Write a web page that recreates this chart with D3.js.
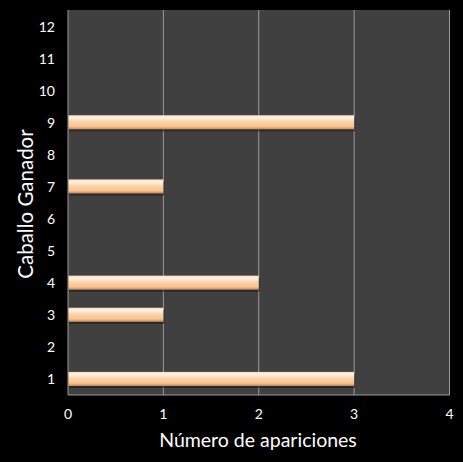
<!DOCTYPE html>
<html>
<head>
<meta charset="utf-8">
<script src="https://cdn.jsdelivr.net/npm/d3@7"></script>
<style>
  body { margin: 0; background: #000; }
  text { font-family: Lato, 'Open Sans', sans-serif; fill: #fff; }
</style>
</head>
<body>
<div id="chart"></div>
<script>
const caballos = ['1', '2', '3', '4', '5', '6', '7', '8', '9', '10', '11', '12']
const apariciones = [3, 0, 1, 2, 0, 0, 1, 0, 3, 0, 0, 0]
const xTicks = [0, 1, 2, 3, 4]

const margin = { top: 10, left: 68, right: 13.5, bottom: 67 }
const width = 463 - margin.left - margin.right
const height = 462 - margin.top - margin.bottom

const svg = d3
  .select('#chart')
  .append('svg')
  .attr('width', 463)
  .attr('height', 462)
  .style('background', '#000')

const defs = svg.append('defs')
const grad = defs
  .append('linearGradient')
  .attr('id', 'barGrad')
  .attr('x1', 0).attr('y1', 0).attr('x2', 0).attr('y2', 1)
grad.append('stop').attr('offset', '0%').attr('stop-color', '#f6dcc0')
grad.append('stop').attr('offset', '18%').attr('stop-color', '#fff4e4')
grad.append('stop').attr('offset', '45%').attr('stop-color', '#fdd3a8')
grad.append('stop').attr('offset', '80%').attr('stop-color', '#f9c490')
grad.append('stop').attr('offset', '100%').attr('stop-color', '#b88462')

const g = svg
  .append('g')
  .attr('transform', 'translate(' + margin.left + ',' + margin.top + ')')

const x = d3.scaleLinear().domain([0, 4]).range([0, width])
const y = d3
  .scaleBand()
  .domain(caballos.slice().reverse())
  .range([0, height])
  .paddingInner(0.56)
  .paddingOuter(0.28)

// plot area
g.append('rect')
  .attr('width', width)
  .attr('height', height)
  .attr('fill', '#404040')

// vertical gridlines
g.selectAll('.grid')
  .data(xTicks.slice(1))
  .enter()
  .append('line')
  .attr('x1', d => x(d))
  .attr('x2', d => x(d))
  .attr('y1', 0)
  .attr('y2', height)
  .attr('stroke', '#9a9a9a')
  .attr('stroke-width', 1)

// axis lines
g.append('line')
  .attr('x1', 0).attr('x2', 0)
  .attr('y1', 0).attr('y2', height)
  .attr('stroke', '#9a9a9a')
g.append('line')
  .attr('x1', 0).attr('x2', width)
  .attr('y1', height).attr('y2', height)
  .attr('stroke', '#9a9a9a')

const data = caballos.map((c, i) => ({ c: c, v: apariciones[i] }))
const bars = data.filter(d => d.v > 0)

// shadows
g.selectAll('.shadow')
  .data(bars)
  .enter()
  .append('rect')
  .attr('x', 1)
  .attr('y', d => y(d.c) + 2)
  .attr('width', d => x(d.v))
  .attr('height', y.bandwidth())
  .attr('fill', '#1e1a18')
  .attr('opacity', 0.6)

g.selectAll('.bar')
  .data(bars)
  .enter()
  .append('rect')
  .attr('x', 0.5)
  .attr('y', d => y(d.c))
  .attr('width', d => x(d.v) - 0.5)
  .attr('height', y.bandwidth())
  .attr('fill', 'url(#barGrad)')

// y labels
g.selectAll('.ylab')
  .data(caballos)
  .enter()
  .append('text')
  .text(d => d)
  .attr('x', -13)
  .attr('y', d => y(d) + y.bandwidth() / 2)
  .attr('text-anchor', 'end')
  .attr('dominant-baseline', 'central')
  .attr('font-size', 14)

// x labels
g.selectAll('.xlab')
  .data(xTicks)
  .enter()
  .append('text')
  .text(d => d)
  .attr('x', d => x(d))
  .attr('y', height + 18)
  .attr('text-anchor', 'middle')
  .attr('dominant-baseline', 'central')
  .attr('font-size', 14)

svg.append('text')
  .text('Número de apariciones')
  .attr('x', 258)
  .attr('y', 439)
  .attr('text-anchor', 'middle')
  .attr('dominant-baseline', 'central')
  .attr('font-size', 19.5)

svg.append('text')
  .text('Caballo Ganador')
  .attr('transform', 'translate(25,204) rotate(-90)')
  .attr('text-anchor', 'middle')
  .attr('dominant-baseline', 'central')
  .attr('font-size', 20.5)
</script>
</body>
</html>
